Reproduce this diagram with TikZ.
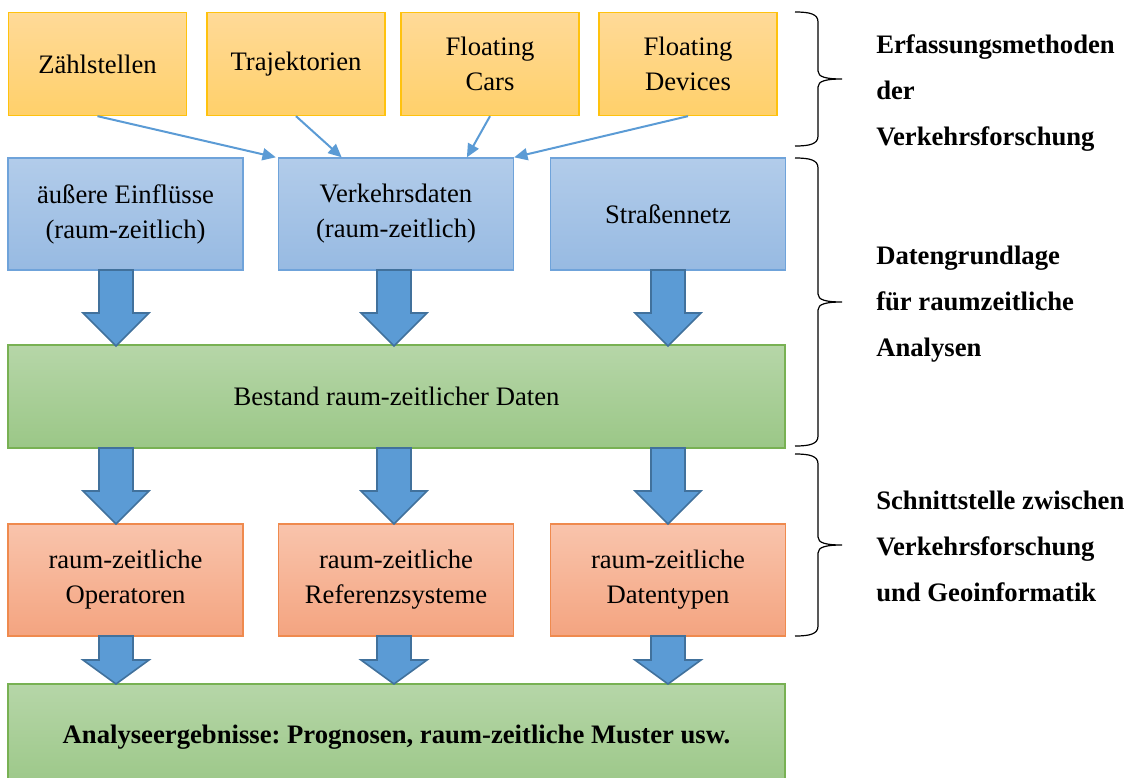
\documentclass[tikz,border=0pt]{standalone}
\usepackage{fontspec}
\setmainfont{Liberation Serif}
\frenchspacing
\usetikzlibrary{calc,arrows.meta}
\def\pxu{0.75pt}
\definecolor{yTop}{HTML}{FFDA98}
\definecolor{yBot}{HTML}{FFD06A}
\definecolor{yLine}{HTML}{FFC20E}
\definecolor{bTop}{HTML}{B2CCEA}
\definecolor{bBot}{HTML}{97BAE2}
\definecolor{bLine}{HTML}{6FA3DA}
\definecolor{gTop}{HTML}{B6D6A8}
\definecolor{gBot}{HTML}{9BC787}
\definecolor{gLine}{HTML}{78B153}
\definecolor{oTop}{HTML}{F9C4AC}
\definecolor{oBot}{HTML}{F4A480}
\definecolor{oLine}{HTML}{EF8A4E}
\definecolor{arrFill}{HTML}{5B9BD5}
\definecolor{arrLine}{HTML}{41719C}
\definecolor{conCol}{HTML}{5B9BD5}
\newcommand\blockarr[4]{%
  \draw[barrow] (#1-17,#2) -- (#1+17,#2) -- (#1+17,#3) -- (#1+33,#3) -- (#1,#4) -- (#1-33,#3) -- (#1-17,#3) -- cycle;}
\newcommand\rbrc[3]{%
  \draw[brc] (795,#1) .. controls (810,#1) and (818,#1+2) .. (818,#1+10) -- (818,#2-8)
    .. controls (818,#2-2) and (826,#2) .. (842,#2)
    .. controls (826,#2) and (818,#2+2) .. (818,#2+8) -- (818,#3-10)
    .. controls (818,#3-2) and (810,#3) .. (795,#3);}
\begin{document}
\begin{tikzpicture}[x=0.75pt,y=-0.75pt,
  box/.style={draw, line width=1pt, inner sep=0pt, align=center,
    font=\fontsize{20}{26.25}\selectfont},
  ybox/.style={box, draw=yLine, top color=yTop, bottom color=yBot,
    minimum width=178*\pxu, minimum height=103*\pxu},
  bbox/.style={box, draw=bLine, top color=bTop, bottom color=bBot,
    minimum width=235*\pxu, minimum height=112*\pxu},
  obox/.style={box, draw=oLine, top color=oTop, bottom color=oBot,
    minimum width=235*\pxu, minimum height=112*\pxu},
  gbox/.style={box, draw=gLine, top color=gTop, bottom color=gBot,
    minimum width=777*\pxu},
  lab/.style={inner sep=0pt, align=left, anchor=west,
    font=\bfseries\fontsize{20}{34.5}\selectfont},
  conn/.style={draw=conCol, line width=1.5pt, -{Triangle[length=10pt,width=9pt]}},
  barrow/.style={fill=arrFill, draw=arrLine, line width=1.2pt, line join=miter},
  brc/.style={draw=black, line width=0.9pt}]
\useasboundingbox (0,0) rectangle (1136,778);
\clip (0,0) rectangle (1136,778);
% top row
\node[ybox] (z)  at (97.5,64) {Zählstellen};
\node[ybox] (tr) at (296,64) {Trajektorien};
\node[ybox] (fc) at (490,64) {Floating\\Cars};
\node[ybox] (fd) at (688,64) {Floating\\Devices};
% blue row
\node[bbox] (ae) at (125.5,214) {äußere Einflüsse\\(raum-zeitlich)};
\node[bbox] (vd) at (396,214) {Verkehrsdaten\\(raum-zeitlich)};
\node[bbox] (sn) at (668,214) {Straßennetz};
% green
\node[gbox, minimum height=103*\pxu] (g1) at (396.5,396.5) {Bestand raum-zeitlicher Daten};
% orange
\node[obox] (op) at (125.5,580) {raum-zeitliche\\Operatoren};
\node[obox] (rs) at (396,580) {raum-zeitliche\\Referenzsysteme};
\node[obox] (dt) at (668,580) {raum-zeitliche\\Datentypen};
% bottom green
\node[gbox, minimum height=106*\pxu, font=\bfseries\fontsize{20}{26.25}\selectfont] (g2) at (396.5,737) {Analyseergebnisse: Prognosen, raum-zeitliche Muster usw.};
% connectors
\draw[conn] (z.south) -- ($(vd.north west)+(-2,0)$);
\draw[conn] (tr.south) -- ($(vd.north west)!0.27!(vd.north east)$);
\draw[conn] (fc.south) -- ($(vd.north west)!0.8!(vd.north east)$);
\draw[conn] (fd.south) -- (vd.north east);
% block arrows
\blockarr{116}{270}{313}{346}
\blockarr{394}{270}{313}{346}
\blockarr{668}{270}{313}{346}
\blockarr{116}{448}{491}{524}
\blockarr{394}{448}{491}{524}
\blockarr{668}{448}{491}{524}
\blockarr{116}{636}{660}{684}
\blockarr{394}{636}{660}{684}
\blockarr{668}{636}{660}{684}
% braces
\rbrc{12}{79}{146}
\rbrc{158}{302}{446}
\rbrc{454}{545}{636}
% labels
\node[lab] (l1) at (876,93) {Erfassungsmethoden\\der\\Verkehrsforschung};
\node[lab] (l2) at (876,304) {Datengrundlage\\für raumzeitliche\\Analysen};
\node[lab] (l3) at (876,546) {Schnittstelle zwischen\\Verkehrsforschung\\und Geoinformatik};
\end{tikzpicture}
\end{document}
